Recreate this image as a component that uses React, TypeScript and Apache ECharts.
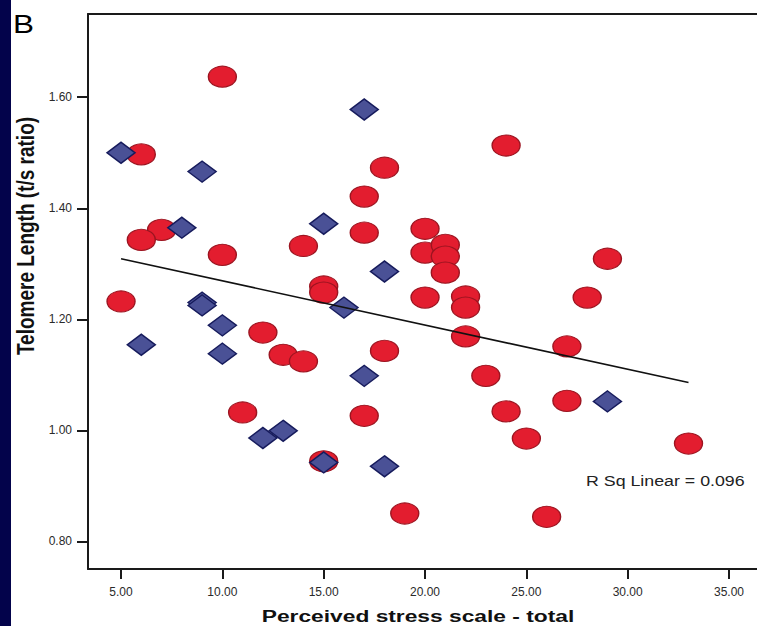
import React, { useEffect, useRef } from "react";
import * as echarts from "echarts";

const xTicks = [5, 10, 15, 20, 25, 30, 35];
const yTicks = [0.8, 1.0, 1.2, 1.4, 1.6];

const circleX = [10, 6, 24, 18, 17, 17, 7, 6, 10, 14, 20, 20, 21, 21, 21, 29, 28, 20, 22, 22, 22, 15, 15, 5, 12, 18, 13, 14, 27, 23, 11, 17, 24, 27, 25, 33, 15, 19, 26];
const circleY = [1.637, 1.497, 1.513, 1.473, 1.421, 1.356, 1.361, 1.343, 1.316, 1.332, 1.363, 1.32, 1.334, 1.313, 1.284, 1.309, 1.239, 1.239, 1.241, 1.221, 1.169, 1.259, 1.248, 1.232, 1.176, 1.143, 1.136, 1.124, 1.151, 1.098, 1.032, 1.026, 1.034, 1.053, 0.985, 0.976, 0.944, 0.85, 0.844];

const diamondX = [5, 9, 8, 17, 15, 18, 16, 9, 9, 10, 6, 10, 17, 12, 13, 15, 18, 29];
const diamondY = [1.5, 1.466, 1.365, 1.578, 1.372, 1.286, 1.221, 1.23, 1.225, 1.189, 1.154, 1.138, 1.098, 0.986, 0.999, 0.942, 0.935, 1.052];

const fitX = [5, 33];
const fitY = [1.309, 1.086];

const panelLabel = "B";
const xTitle = "Perceived stress scale - total";
const yTitle = "Telomere Length (t/s ratio)";
const rSqLabel = "R Sq Linear = 0.096";

const FONT = "'Liberation Sans', Arial, Helvetica, sans-serif";

export default function App() {
  const ref = useRef<HTMLDivElement>(null);

  useEffect(() => {
    document.body.style.margin = "0";
    const chart = echarts.init(ref.current!, null, { renderer: "svg" });
    const axisColor = "#1a1a1a";
    const xMin = 3.37;
    const xMax = 36.38;
    const option: any = {
      animation: false,
      backgroundColor: "#ffffff",
      grid: { left: 88, right: 0, top: 14, bottom: 57 },
      xAxis: [
        {
          type: "value",
          min: xMin,
          max: xMax,
          position: "bottom",
          axisLine: { show: true, onZero: false, lineStyle: { color: axisColor, width: 2 } },
          axisTick: { show: true, length: 10, customValues: xTicks, lineStyle: { color: axisColor, width: 2 } },
          axisLabel: {
            customValues: xTicks,
            formatter: (v: number) => v.toFixed(2),
            margin: 17,
            fontSize: 12,
            color: "#2a2a2a",
            fontFamily: FONT,
          },
          splitLine: { show: false },
        },
        {
          type: "value",
          min: xMin,
          max: xMax,
          position: "top",
          axisLine: { show: true, onZero: false, lineStyle: { color: axisColor, width: 2 } },
          axisTick: { show: false },
          axisLabel: { show: false },
          splitLine: { show: false },
        },
      ],
      yAxis: {
        type: "value",
        min: 0.75,
        max: 1.75,
        axisLine: { show: true, onZero: false, lineStyle: { color: axisColor, width: 2 } },
        axisTick: { show: true, length: 11, customValues: yTicks, lineStyle: { color: axisColor, width: 2 } },
        axisLabel: {
          customValues: yTicks,
          formatter: (v: number) => v.toFixed(2),
          margin: 16,
          fontSize: 12,
          color: "#2a2a2a",
          fontFamily: FONT,
        },
        splitLine: { show: false },
      },
      series: [
        {
          type: "scatter",
          name: "circles",
          symbol: "circle",
          symbolSize: [28, 21],
          data: circleX.map((x, i) => [x, circleY[i]]),
          itemStyle: { color: "#e31d2f", borderColor: "#9c1420", borderWidth: 1.2, opacity: 1 },
          z: 2,
        },
        {
          type: "scatter",
          name: "diamonds",
          symbol: "diamond",
          symbolSize: [28, 21],
          data: diamondX.map((x, i) => [x, diamondY[i]]),
          itemStyle: { color: "#4a5196", borderColor: "#161b5c", borderWidth: 1.5, opacity: 1 },
          z: 3,
        },
        {
          type: "line",
          name: "fit",
          data: fitX.map((x, i) => [x, fitY[i]]),
          symbol: "none",
          lineStyle: { color: "#111", width: 1.6 },
          z: 4,
        },
      ],
      graphic: [
        {
          type: "rect",
          shape: { x: 0, y: 0, width: 11, height: 626 },
          style: { fill: "#03034b" },
          z: 10,
        },
        {
          type: "text",
          x: 13,
          y: 24,
          scaleX: 1.26,
          style: {
            text: panelLabel,
            font: `25px ${FONT}`,
            fill: "#000",
            textAlign: "left",
            textVerticalAlign: "middle",
          },
        },
        {
          type: "text",
          x: 418,
          y: 616,
          scaleX: 1.34,
          style: {
            text: xTitle,
            font: `bold 17px ${FONT}`,
            fill: "#111",
            textAlign: "center",
            textVerticalAlign: "middle",
          },
        },
        {
          type: "text",
          x: 26,
          y: 236,
          rotation: Math.PI / 2,
          scaleY: 1.25,
          style: {
            text: yTitle,
            font: `bold 19px ${FONT}`,
            fill: "#111",
            textAlign: "center",
            textVerticalAlign: "middle",
          },
        },
        {
          type: "text",
          x: 586,
          y: 481,
          scaleX: 1.27,
          style: {
            text: rSqLabel,
            font: `14px ${FONT}`,
            fill: "#222",
            textAlign: "left",
            textVerticalAlign: "middle",
          },
        },
      ],
    };
    chart.setOption(option);
    return () => chart.dispose();
  }, []);

  return (
    <div
      ref={ref}
      style={{ position: "absolute", left: 0, top: 0, width: 757, height: 626 }}
    />
  );
}
